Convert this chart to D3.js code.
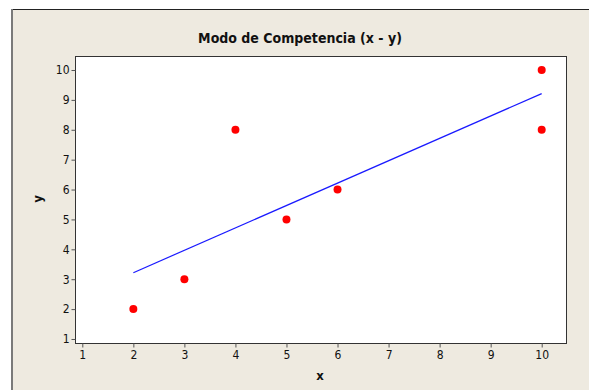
<!DOCTYPE html>
<html>
<head>
<meta charset="utf-8">
<script src="https://cdn.jsdelivr.net/npm/d3@7/dist/d3.min.js"></script>
<style>
  html, body { margin: 0; padding: 0; background: #fff; }
  svg { display: block; }
</style>
</head>
<body>
<svg id="chart" width="589" height="390"></svg>
<script>
// Observations
const xValues = [2, 3, 4, 5, 6, 10, 10];
const yValues = [2, 3, 8, 5, 6, 10, 8];
const xTicks = [1, 2, 3, 4, 5, 6, 7, 8, 9, 10];
const yTicks = [1, 2, 3, 4, 5, 6, 7, 8, 9, 10];
const titleText = "Modo de Competencia (x - y)";
const xLabel = "x";
const yLabel = "y";

const W = 589, H = 390;
const plot = { left: 75, top: 56, right: 566, bottom: 343 };
const font = "Tahoma, 'DejaVu Sans Condensed', 'DejaVu Sans', sans-serif";

const svg = d3.select("#chart");

// Window background and frame
svg.append("rect").attr("x", 11).attr("y", 9).attr("width", W).attr("height", H)
  .attr("fill", "#eeeae0");
svg.append("line").attr("x1", 11).attr("x2", W).attr("y1", 9.5).attr("y2", 9.5)
  .attr("stroke", "#222").attr("stroke-width", 1);
svg.append("line").attr("x1", 12).attr("x2", 12).attr("y1", 9).attr("y2", H)
  .attr("stroke", "#7a7a7a").attr("stroke-width", 2);

const x = d3.scaleLinear().domain([0.857, 10.476]).range([plot.left, plot.right]);
const y = d3.scaleLinear().domain([0.866, 10.468]).range([plot.bottom, plot.top]);

// Plot area
svg.append("rect")
  .attr("x", plot.left + 0.5).attr("y", plot.top + 0.5)
  .attr("width", plot.right - plot.left).attr("height", plot.bottom - plot.top)
  .attr("fill", "#fff").attr("stroke", "#333").attr("stroke-width", 1);

// Axes
const xAxis = svg.append("g")
  .attr("transform", `translate(0,${plot.bottom + 0.5})`)
  .call(d3.axisBottom(x).tickValues(xTicks).tickFormat(d3.format("d")).tickSize(4).tickPadding(3));
const yAxis = svg.append("g")
  .attr("transform", `translate(${plot.left + 0.5},0)`)
  .call(d3.axisLeft(y).tickValues(yTicks).tickFormat(d3.format("d")).tickSize(4).tickPadding(2));
[xAxis, yAxis].forEach(g => {
  g.select(".domain").remove();
  g.selectAll(".tick line").attr("stroke", "#555");
  g.selectAll(".tick text").attr("fill", "#111")
    .style("font-family", font).style("font-size", "12px");
});

// Least-squares fit line
const n = xValues.length;
const mx = d3.mean(xValues), my = d3.mean(yValues);
let sxy = 0, sxx = 0;
for (let i = 0; i < n; i++) {
  sxy += (xValues[i] - mx) * (yValues[i] - my);
  sxx += (xValues[i] - mx) ** 2;
}
const slope = sxy / sxx;
const intercept = my - slope * mx;
const [x0, x1] = d3.extent(xValues);
svg.append("line")
  .attr("x1", x(x0)).attr("y1", y(intercept + slope * x0))
  .attr("x2", x(x1)).attr("y2", y(intercept + slope * x1))
  .attr("stroke", "#1a1aff").attr("stroke-width", 1.2);

// Points
svg.append("g").selectAll("circle")
  .data(xValues.map((v, i) => [v, yValues[i]]))
  .join("circle")
  .attr("cx", d => x(d[0])).attr("cy", d => y(d[1]))
  .attr("r", 4).attr("fill", "#ff0000");

// Title and axis labels
svg.append("text").attr("x", 300).attr("y", 43).attr("text-anchor", "middle")
  .style("font-family", font).style("font-size", "14px").style("font-weight", "bold")
  .attr("fill", "#111").text(titleText);
svg.append("text").attr("x", 320).attr("y", 380).attr("text-anchor", "middle")
  .style("font-family", font).style("font-size", "13px").style("font-weight", "bold")
  .attr("fill", "#111").text(xLabel);
svg.append("text").attr("transform", "translate(42,199) rotate(-90)").attr("text-anchor", "middle")
  .style("font-family", font).style("font-size", "13px").style("font-weight", "bold")
  .attr("fill", "#111").text(yLabel);
</script>
</body>
</html>
